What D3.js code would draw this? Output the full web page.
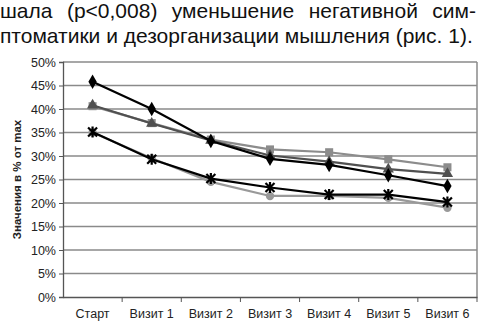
<!DOCTYPE html>
<html>
<head>
<meta charset="utf-8">
<script src="https://cdn.jsdelivr.net/npm/d3@7"></script>
<style>
body { margin: 0; background: #fff; }
svg { display: block; font-family: Arial, "Liberation Sans", sans-serif; }
</style>
</head>
<body>
<svg width="479" height="323"></svg>
<script>
var categories = ["Старт", "Визит 1", "Визит 2", "Визит 3", "Визит 4", "Визит 5", "Визит 6"];
var yTicks = [0, 5, 10, 15, 20, 25, 30, 35, 40, 45, 50];

var diamondVals = [45.8, 40.0, 33.2, 29.4, 28.1, 25.9, 23.6];
var squareVals = [40.6, 37.0, 33.5, 31.4, 30.8, 29.3, 27.6];
var triangleVals = [40.8, 36.9, 33.3, 30.1, 28.8, 27.2, 26.2];
var starVals = [35.1, 29.3, 25.2, 23.3, 21.8, 21.8, 20.2];
var circleVals = [35.0, 29.5, 24.5, 21.5, 21.5, 21.1, 19.0];

var textLine1 = "шала (р<0,008) уменьшение негативной сим-";
var textLine2 = "птоматики и дезорганизации мышления (рис. 1).";

var svg = d3.select("svg");

var margin = {left: 63, right: 2, top: 62, bottom: 26};
var width = 479 - margin.left - margin.right;
var height = 323 - margin.top - margin.bottom;

// paragraph text above the chart (justified first line)
var words = textLine1.split(" ");
var t1 = svg.append("g");
var widths = words.map(function(w) {
    var t = t1.append("text").attr("font-size", 21).attr("y", 18).attr("fill", "#111").text(w);
    return t.node().getComputedTextLength();
});
var total = d3.sum(widths);
var gap = (476 - total) / (words.length - 1);
var xpos = 0;
t1.selectAll("text").each(function(d, i) {
    d3.select(this).attr("x", xpos);
    xpos += widths[i] + gap;
});
svg.append("text")
    .attr("x", 0).attr("y", 43)
    .attr("font-size", 21)
    .attr("fill", "#111")
    .text(textLine2);

var g = svg.append("g").attr("transform", "translate(" + margin.left + "," + margin.top + ")");

var x = d3.scaleBand().domain(categories).range([0, width]);
var y = d3.scaleLinear().domain([0, 50]).range([height, 0]);

// gridlines
g.selectAll(".grid")
    .data(yTicks.slice(1))
    .enter()
    .append("line")
    .attr("x1", 0).attr("x2", width)
    .attr("y1", function(d) { return y(d); })
    .attr("y2", function(d) { return y(d); })
    .attr("stroke", "#8a8a8a")
    .attr("stroke-width", 1.3);

// right border
g.append("line")
    .attr("x1", width).attr("x2", width)
    .attr("y1", 0).attr("y2", height)
    .attr("stroke", "#8a8a8a").attr("stroke-width", 1.5);

// y axis
var yAxis = g.append("g")
    .call(d3.axisLeft(y).tickValues(yTicks).tickSize(4).tickPadding(3)
        .tickFormat(function(d) { return d + "%"; }));
yAxis.select(".domain").attr("stroke", "#555").attr("stroke-width", 1.3);
yAxis.selectAll(".tick line").attr("stroke", "#555");
yAxis.selectAll("text").attr("font-size", 12.5).attr("fill", "#222");

// x axis
var xAxis = g.append("g")
    .attr("transform", "translate(0," + height + ")")
    .call(d3.axisBottom(x).tickSize(0).tickPadding(12));
xAxis.select(".domain").attr("stroke", "#555").attr("stroke-width", 1.3);
xAxis.selectAll("text").attr("font-size", 12.5).attr("fill", "#222");
g.selectAll(".xtick")
    .data(categories.slice(1).concat([null]))
    .enter()
    .append("line")
    .attr("x1", function(d, i) { return x.step() * (i + 1); })
    .attr("x2", function(d, i) { return x.step() * (i + 1); })
    .attr("y1", height).attr("y2", height + 5)
    .attr("stroke", "#555");

// y label
svg.append("text")
    .attr("transform", "translate(21," + (margin.top + height / 2) + ") rotate(-90)")
    .attr("text-anchor", "middle")
    .attr("font-size", 11.5)
    .attr("font-weight", "bold")
    .attr("fill", "#222")
    .text("Значения в % от max");

var cx = function(i) { return x(categories[i]) + x.bandwidth() / 2; };
var line = d3.line()
    .x(function(d, i) { return cx(i); })
    .y(function(d) { return y(d); });

var series = [
    {vals: circleVals, color: "#999999", marker: d3.symbolCircle, size: 55},
    {vals: squareVals, color: "#8c8c8c", marker: d3.symbolSquare, size: 65},
    {vals: triangleVals, color: "#505050", marker: d3.symbolTriangle, size: 55},
    {vals: diamondVals, color: "#000000", marker: d3.symbolDiamond, size: 60},
    {vals: starVals, color: "#000000", marker: "star", size: 0}
];

series.forEach(function(s) {
    g.append("path")
        .datum(s.vals)
        .attr("d", line)
        .attr("fill", "none")
        .attr("stroke", s.color)
        .attr("stroke-width", 2.2);

    var pts = g.selectAll(null)
        .data(s.vals)
        .enter()
        .append("g")
        .attr("transform", function(d, i) { return "translate(" + cx(i) + "," + y(d) + ")"; });

    if (s.marker === "star") {
        pts.append("path")
            .attr("d", "M-4.5,-4.5L4.5,4.5M-4.5,4.5L4.5,-4.5M0,-5.5L0,5.5")
            .attr("stroke", s.color)
            .attr("stroke-width", 2.2);
    } else {
        pts.append("path")
            .attr("d", d3.symbol().type(s.marker).size(s.size))
            .attr("fill", s.color);
    }
});
</script>
</body>
</html>
